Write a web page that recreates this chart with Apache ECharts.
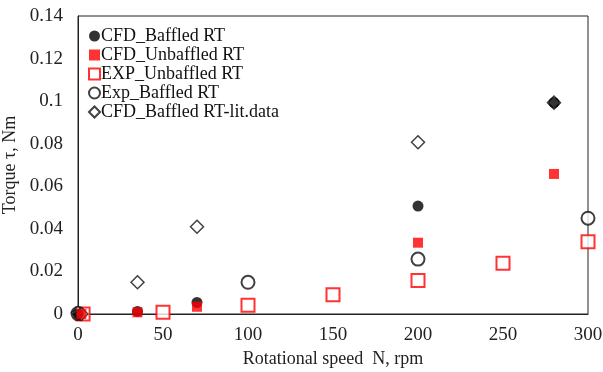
<!DOCTYPE html>
<html>
<head>
<meta charset="utf-8">
<script src="https://cdn.jsdelivr.net/npm/echarts@6/dist/echarts.min.js"></script>
<style>
  html, body { margin: 0; padding: 0; background: #fff; }
  #chart { width: 603px; height: 372px; }
</style>
</head>
<body>
<div id="chart"></div>
<script>
// [rpm, torque] pairs
const cfdBaffled = [[0, 0], [35, 0.0012], [70, 0.0054], [200, 0.0507], [280, 0.0993]];
const cfdUnbaffled = [[2, 0], [35, 0.0008], [70, 0.0034], [200, 0.0335], [280, 0.0658]];
const expUnbaffled = [[3, 0], [50, 0.0008], [100, 0.0041], [150, 0.0090], [200, 0.0157], [250, 0.0238], [300, 0.034]];
const expBaffled = [[0, 0.0002], [100, 0.0149], [200, 0.0258], [300, 0.045]];
const litData = [[0, 0.0006], [2, 0], [35, 0.0149], [70, 0.041], [200, 0.0807], [280, 0.0993]];

const xTicks = { min: 0, max: 300, interval: 50 };
const yTicks = { min: 0, max: 0.14, interval: 0.02 };

const font = 'Liberation Serif';
const diamond = 'path://M0,5 L5,0 L10,5 L5,10 Z';

const chart = echarts.init(document.getElementById('chart'));

chart.setOption({
  animation: false,
  backgroundColor: '#fff',
  textStyle: { fontFamily: font },
  grid: {
    left: 78, right: 15, top: 16, bottom: 58,
    outerBoundsMode: 'none',
    show: true, borderColor: '#222', borderWidth: 1
  },
  legend: {
    orient: 'vertical',
    left: 83, top: 22,
    itemGap: 1,
    itemWidth: 11, itemHeight: 11,
    textStyle: { fontFamily: font, fontSize: 18, color: '#111', padding: [0, 0, 0, -4] },
    data: ['CFD_Baffled RT', 'CFD_Unbaffled RT', 'EXP_Unbaffled RT', 'Exp_Baffled RT', 'CFD_Baffled RT-lit.data']
  },
  xAxis: {
    type: 'value',
    min: xTicks.min, max: xTicks.max, interval: xTicks.interval,
    name: 'Rotational speed  N, rpm',
    nameLocation: 'middle', nameGap: 36,
    nameTextStyle: { fontFamily: font, fontSize: 18, color: '#222' },
    axisLine: { lineStyle: { color: '#222' } },
    axisTick: { show: false },
    splitLine: { show: false },
    axisLabel: { fontFamily: font, fontSize: 19, color: '#222', margin: 12 }
  },
  yAxis: {
    type: 'value',
    min: yTicks.min, max: yTicks.max, interval: yTicks.interval,
    name: 'Torque τ, Nm',
    nameLocation: 'middle', nameGap: 54,
    nameTextStyle: { fontFamily: font, fontSize: 18, color: '#222' },
    axisLine: { show: true, lineStyle: { color: '#222' } },
    axisTick: { show: false },
    splitLine: { show: false },
    axisLabel: { fontFamily: font, fontSize: 19, color: '#222', margin: 15 }
  },
  series: [
    {
      name: 'EXP_Unbaffled RT', type: 'scatter', data: expUnbaffled,
      symbol: 'rect', symbolSize: 13,
      itemStyle: { color: '#fff', borderColor: '#f00', borderWidth: 2 }
    },
    {
      name: 'Exp_Baffled RT', type: 'scatter', data: expBaffled,
      symbol: 'circle', symbolSize: 13,
      itemStyle: { color: '#fff', borderColor: '#111', borderWidth: 2 }
    },
    {
      name: 'CFD_Baffled RT-lit.data', type: 'scatter', data: litData,
      symbol: diamond, symbolSize: 13,
      itemStyle: { color: '#fff', borderColor: '#111', borderWidth: 1.5 }
    },
    {
      name: 'CFD_Baffled RT', type: 'scatter', data: cfdBaffled,
      symbol: 'circle', symbolSize: 11,
      itemStyle: { color: '#000' }
    },
    {
      name: 'CFD_Unbaffled RT', type: 'scatter', data: cfdUnbaffled,
      symbol: 'rect', symbolSize: 10,
      itemStyle: { color: '#f00' }
    }
  ]
});
</script>
</body>
</html>
